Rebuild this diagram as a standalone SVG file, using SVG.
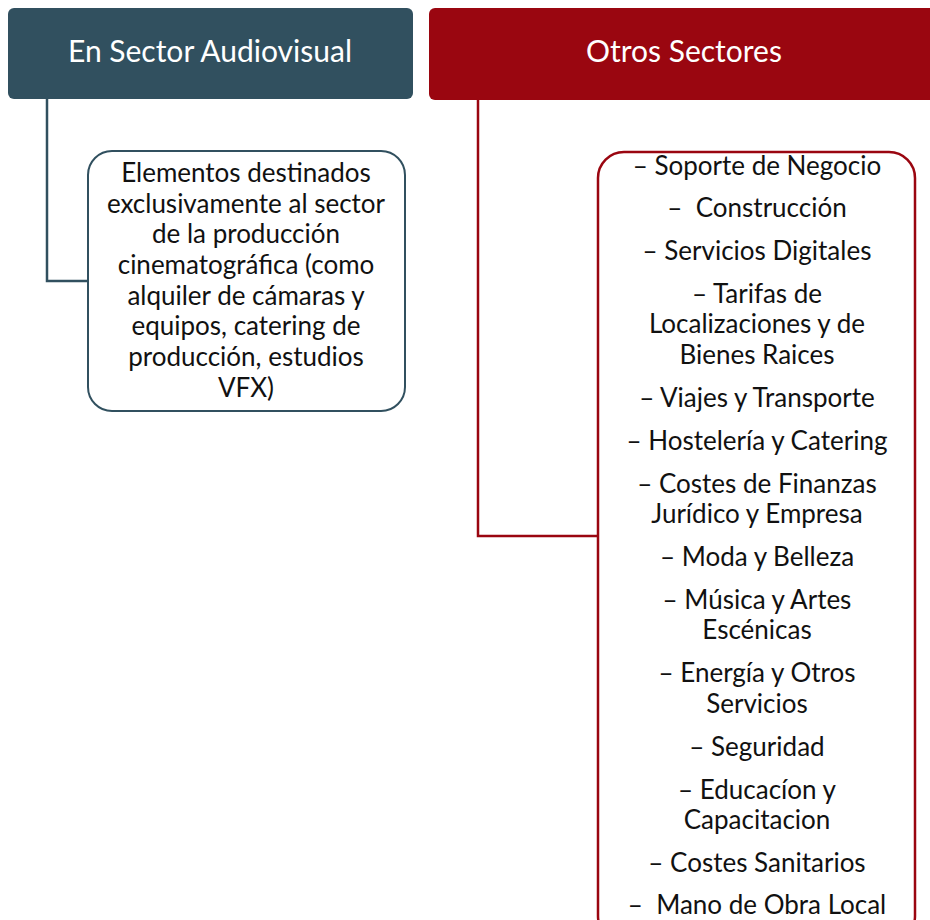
<svg xmlns="http://www.w3.org/2000/svg" width="930" height="920" viewBox="0 0 930 920">
<style>
.hdr{font-family:Lato,"Open Sans","Liberation Sans",sans-serif;font-size:30px;fill:#ffffff;text-anchor:middle}
.t{font-family:Lato,"Open Sans","Liberation Sans",sans-serif;font-size:26px;fill:#111111;text-anchor:middle}
.conn-a{fill:none;stroke:#31505f;stroke-width:2.5}
.conn-b{fill:none;stroke:#9a0610;stroke-width:2.5}
</style>
<rect width="930" height="920" fill="#ffffff"/>
<g id="connectors">
<polyline class="conn-a" points="47,99 47,281 88,281"/>
<polyline class="conn-b" points="478,100 478,536 598,536"/>
</g>
<g id="header-audiovisual">
<rect x="8" y="8" width="405" height="91" rx="6" fill="#31505f"/>
<text class="hdr" x="210" y="62">En Sector Audiovisual</text>
</g>
<g id="header-otros">
<rect x="429" y="8" width="511" height="92" rx="6" fill="#9a0610"/>
<text class="hdr" x="684" y="62">Otros Sectores</text>
</g>
<g id="box-audiovisual">
<rect x="88" y="151" width="317" height="260" rx="24" fill="#ffffff" stroke="#31505f" stroke-width="2"/>
<text class="t" x="246" y="182">Elementos destinados</text>
<text class="t" x="246" y="213">exclusivamente al sector</text>
<text class="t" x="246" y="243">de la producción</text>
<text class="t" x="246" y="274">cinematográfica (como</text>
<text class="t" x="246" y="305">alquiler de cámaras y</text>
<text class="t" x="246" y="335">equipos, catering de</text>
<text class="t" x="246" y="366">producción, estudios</text>
<text class="t" x="246" y="397">VFX)</text>
</g>
<g id="box-otros">
<rect x="598" y="152" width="317" height="790" rx="26" fill="#ffffff" stroke="#9a0610" stroke-width="2.5"/>
<text class="t" x="757" y="175">– Soporte de Negocio</text>
<text class="t" x="757" y="217" xml:space="preserve">–  Construcción</text>
<text class="t" x="757" y="260">– Servicios Digitales</text>
<text class="t" x="757" y="303">– Tarifas de</text>
<text class="t" x="757" y="333">Localizaciones y de</text>
<text class="t" x="757" y="364">Bienes Raices</text>
<text class="t" x="757" y="407">– Viajes y Transporte</text>
<text class="t" x="757" y="450">– Hostelería y Catering</text>
<text class="t" x="757" y="493">– Costes de Finanzas</text>
<text class="t" x="757" y="523">Jurídico y Empresa</text>
<text class="t" x="757" y="566">– Moda y Belleza</text>
<text class="t" x="757" y="609">– Música y Artes</text>
<text class="t" x="757" y="639">Escénicas</text>
<text class="t" x="757" y="682">– Energía y Otros</text>
<text class="t" x="757" y="713">Servicios</text>
<text class="t" x="757" y="756">– Seguridad</text>
<text class="t" x="757" y="799">– Educacíon y</text>
<text class="t" x="757" y="829">Capacitacion</text>
<text class="t" x="757" y="872">– Costes Sanitarios</text>
<text class="t" x="757" y="914" xml:space="preserve">–  Mano de Obra Local</text>
</g>
</svg>
